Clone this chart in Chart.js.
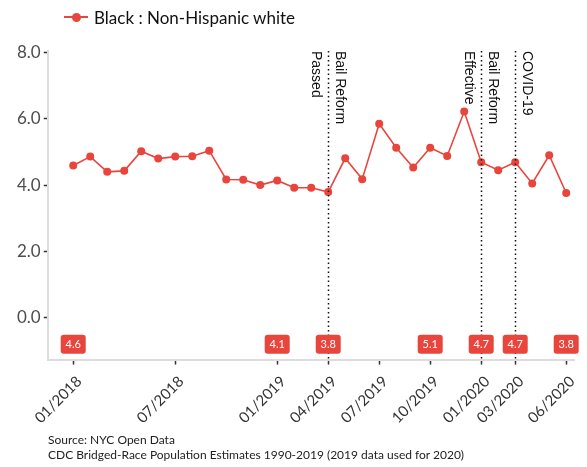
<!DOCTYPE html>
<html>
<head>
<meta charset="utf-8">
<script src="https://cdn.jsdelivr.net/npm/chart.js@4.4.1/dist/chart.umd.min.js"></script>
<style>
  html, body { margin: 0; padding: 0; background: #fff; }
  #wrap { position: relative; width: 587px; height: 467px; font-family: Lato, 'Open Sans', sans-serif; }
  #legend { position: absolute; left: 64px; top: 6px; height: 22px; display: flex; align-items: center; font-size: 17px; color: #111; }
  #legend .mark { position: relative; width: 24px; height: 2px; background: #e8453c; margin-right: 6px; }
  #legend .mark::after { content: ''; position: absolute; left: 8px; top: -3.5px; width: 9px; height: 9px; border-radius: 50%; background: #e8453c; }
  #source { position: absolute; left: 48px; top: 432px; font-size: 12px; line-height: 15px; color: #222; }
</style>
</head>
<body>
<div id="wrap">
  <canvas id="chart" width="587" height="467"></canvas>
  <div id="legend"><span class="mark"></span><span>Black : Non-Hispanic white</span></div>
  <div id="source">Source: NYC Open Data<br>CDC Bridged-Race Population Estimates 1990-2019 (2019 data used for 2020)</div>
</div>
<script>
// monthly ratio, Black : Non-Hispanic white
const months = [
  '01/2018', '02/2018', '03/2018', '04/2018', '05/2018', '06/2018',
  '07/2018', '08/2018', '09/2018', '10/2018', '11/2018', '12/2018',
  '01/2019', '02/2019', '03/2019', '04/2019', '05/2019', '06/2019',
  '07/2019', '08/2019', '09/2019', '10/2019', '11/2019', '12/2019',
  '01/2020', '02/2020', '03/2020', '04/2020', '05/2020', '06/2020',
];
const ratio = [
  4.59, 4.86, 4.40, 4.43, 5.02, 4.80,
  4.86, 4.87, 5.04, 4.17, 4.16, 4.00,
  4.14, 3.92, 3.92, 3.79, 4.81, 4.18,
  5.85, 5.13, 4.53, 5.13, 4.88, 6.22,
  4.69, 4.45, 4.69, 4.05, 4.90, 3.76,
];
const tickMonths = ['01/2018', '07/2018', '01/2019', '04/2019', '07/2019', '10/2019', '01/2020', '03/2020', '06/2020'];
const yTicks = [0, 2, 4, 6, 8];
const labelMonths = ['01/2018', '01/2019', '04/2019', '10/2019', '01/2020', '03/2020', '06/2020'];
const eventMonths = ['04/2019', '01/2020', '03/2020'];
const eventText = [['Bail Reform', 'Passed'], ['Bail Reform', 'Effective'], ['COVID-19']];

const RED = '#e8453c';
const LABEL_ROW = -0.81; // y value where the value boxes sit

const eventLines = {
  id: 'eventLines',
  afterDatasetsDraw(chart) {
    const { ctx, chartArea } = chart;
    const xs = chart.scales.x;
    ctx.save();
    eventMonths.forEach((m, i) => {
      const x = Math.round(xs.getPixelForValue(months.indexOf(m))) + 0.5;
      ctx.strokeStyle = '#111';
      ctx.lineWidth = 1.5;
      ctx.setLineDash([1.5, 3]);
      ctx.beginPath();
      ctx.moveTo(x, chartArea.top);
      ctx.lineTo(x, chartArea.bottom);
      ctx.stroke();

      ctx.setLineDash([]);
      ctx.save();
      ctx.translate(x, chartArea.top);
      ctx.rotate(Math.PI / 2);
      ctx.fillStyle = '#111';
      ctx.font = '14px "Liberation Sans", Arial, sans-serif';
      ctx.textAlign = 'left';
      ctx.textBaseline = 'middle';
      eventText[i].forEach((line, j) => {
        ctx.fillText(line, 0, j === 0 ? -11 : 13);
      });
      ctx.restore();
    });
    ctx.restore();
  },
};

const valueBoxes = {
  id: 'valueBoxes',
  afterDatasetsDraw(chart) {
    const { ctx } = chart;
    const xs = chart.scales.x;
    const ys = chart.scales.y;
    const cy = ys.getPixelForValue(LABEL_ROW);
    ctx.save();
    ctx.font = '11px Lato, "Open Sans", sans-serif';
    ctx.textAlign = 'center';
    ctx.textBaseline = 'middle';
    labelMonths.forEach((m) => {
      const idx = months.indexOf(m);
      const cx = xs.getPixelForValue(idx);
      const w = 25, h = 19;
      ctx.fillStyle = RED;
      ctx.beginPath();
      ctx.roundRect(cx - w / 2, cy - h / 2, w, h, 3);
      ctx.fill();
      ctx.fillStyle = '#fff';
      ctx.fillText(ratio[idx].toFixed(1), cx, cy + 0.5);
    });
    ctx.restore();
  },
};

new Chart(document.getElementById('chart'), {
  type: 'line',
  data: {
    datasets: [{
      label: 'Black : Non-Hispanic white',
      data: ratio.map((v, i) => ({ x: i, y: v })),
      borderColor: RED,
      backgroundColor: RED,
      borderWidth: 1.6,
      pointRadius: 4,
      pointBorderWidth: 0,
      tension: 0,
    }],
  },
  options: {
    responsive: false,
    animation: false,
    layout: { padding: { left: 14, right: 3, top: 51, bottom: 32 } },
    plugins: {
      legend: { display: false },
      tooltip: { enabled: false },
    },
    scales: {
      x: {
        type: 'linear',
        min: -1.5,
        max: 29.5,
        afterBuildTicks: (scale) => {
          scale.ticks = tickMonths.map((m) => ({ value: months.indexOf(m) }));
        },
        ticks: {
          autoSkip: false,
          minRotation: 45,
          maxRotation: 45,
          color: '#333',
          font: { family: 'Lato, "Open Sans", sans-serif', size: 15 },
          padding: 8,
          labelOffset: 6,
          callback: (v) => months[v],
        },
        grid: { display: true, drawOnChartArea: false, drawTicks: true, tickLength: 5, tickColor: '#333', tickWidth: 1.5 },
        border: { display: true, color: '#dcdcdc', width: 2 },
      },
      y: {
        min: -1.27,
        max: 8.05,
        afterBuildTicks: (scale) => {
          scale.ticks = yTicks.map((v) => ({ value: v }));
        },
        ticks: {
          color: '#4d4d4d',
          font: { family: 'Lato, "Open Sans", sans-serif', size: 17 },
          padding: 3,
          callback: (v) => v.toFixed(1),
        },
        grid: { display: true, drawOnChartArea: false, drawTicks: true, tickLength: 4, tickColor: '#333', tickWidth: 1.5 },
        border: { display: true, color: '#dcdcdc', width: 2 },
      },
    },
  },
  plugins: [eventLines, valueBoxes],
});
</script>
</body>
</html>
